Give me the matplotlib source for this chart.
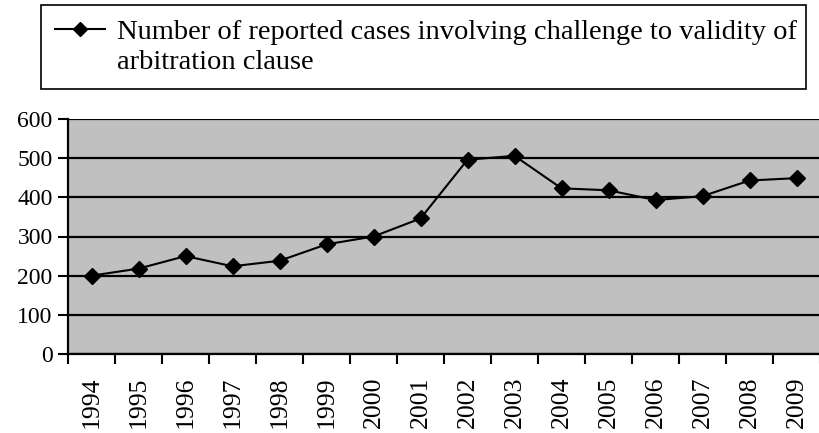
import matplotlib
matplotlib.use("Agg")
import matplotlib.pyplot as plt
from matplotlib.lines import Line2D

# -----------------------------
# Data
# -----------------------------
years = ['1994', '1995', '1996', '1997', '1998', '1999', '2000', '2001',
         '2002', '2003', '2004', '2005', '2006', '2007', '2008', '2009']
cases = [200, 218, 250, 224, 238, 280, 300, 346,
         496, 506, 423, 418, 393, 403, 443, 449]
label_lines = ["Number of reported cases involving challenge to validity of",
               "arbitration clause"]
y_ticks = [0, 100, 200, 300, 400, 500, 600]

plt.rcParams['font.family'] = ['Liberation Serif', 'DejaVu Serif']

fig = plt.figure(figsize=(8.19, 4.33), dpi=100)
ax = fig.add_axes([68 / 819, 1 - 354 / 433, 752 / 819, 235 / 433])

x = list(range(len(years)))
line, = ax.plot(x, cases, color='black', lw=1.5, marker='D', markersize=8.5,
                markerfacecolor='black', markeredgecolor='black',
                label=label_lines[0], zorder=3)

ax.set_facecolor('#c0c0c0')
ax.set_xlim(-0.5, len(years) - 0.5)
ax.set_ylim(0, 600)
ax.set_yticks(y_ticks)
ax.set_yticklabels([str(v) for v in y_ticks], fontsize=17)

# category ticks between the years, labels at the centres
ax.set_xticks([i - 0.5 for i in range(len(years) + 1)])
ax.set_xticklabels([])
ax.set_xticks(x, minor=True)
ax.set_xticklabels(years, minor=True, rotation=90, fontsize=18.5)
ax.tick_params(axis='x', which='minor', length=0, pad=16)
ax.tick_params(axis='x', which='major', length=7, width=1.5, direction='out')
ax.tick_params(axis='y', length=7, width=1.5, direction='out', pad=4)

ax.grid(True, axis='y', color='black', lw=1.6, zorder=1)
ax.set_axisbelow(True)
for side in ['top', 'right']:
    ax.spines[side].set_visible(False)
ax.spines['left'].set_linewidth(1.6)
ax.spines['bottom'].set_linewidth(1.6)

# legend: second line of the label as an entry with an empty handle,
# so the marker sits next to the first line like in the original
legend_handle = Line2D([], [], color='black', lw=1.5, marker='D',
                       markersize=7)
blank = Line2D([], [], color='none')
leg = fig.legend(handles=[legend_handle, blank], labels=label_lines,
                 loc='upper left',
                 bbox_to_anchor=(41 / 819, 1 - 5 / 433, 765 / 819, 0),
                 mode='expand', fontsize=20.5,
                 frameon=True, fancybox=False, edgecolor='black',
                 framealpha=1, handlelength=1.75, handletextpad=0.42,
                 labelspacing=0.12, borderpad=0.5, borderaxespad=0)
leg.get_frame().set_linewidth(1.2)

fig.savefig("out.png", dpi=100)
